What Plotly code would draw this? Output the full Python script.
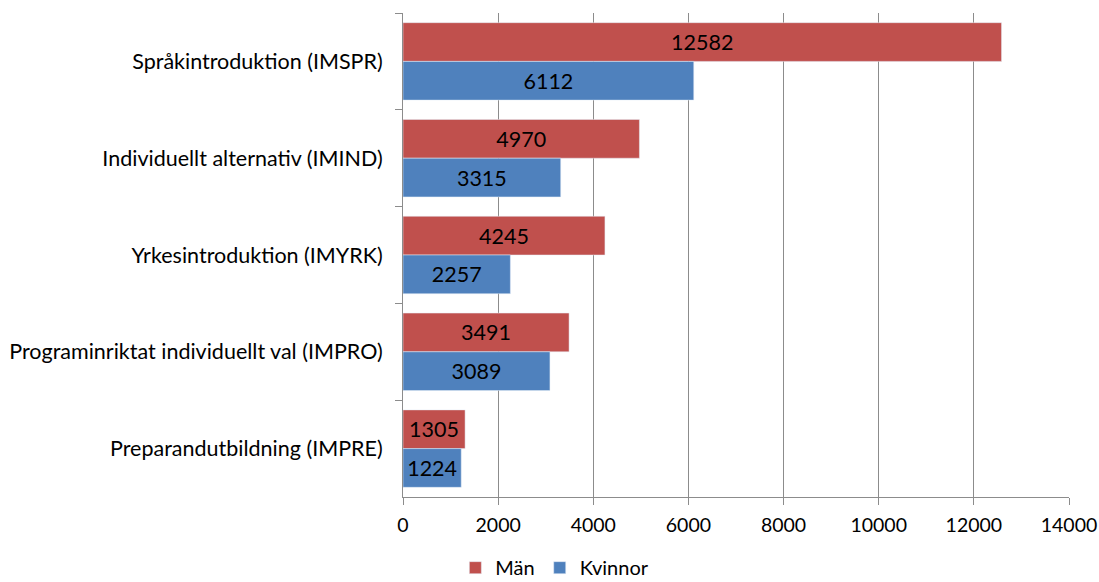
import plotly.graph_objects as go

categories = [
    "Språkintroduktion (IMSPR)",
    "Individuellt alternativ (IMIND)",
    "Yrkesintroduktion (IMYRK)",
    "Programinriktat individuellt val (IMPRO)",
    "Preparandutbildning (IMPRE)",
]
man = [12582, 4970, 4245, 3491, 1305]
kvinnor = [6112, 3315, 2257, 3089, 1224]
x_ticks = [0, 2000, 4000, 6000, 8000, 10000, 12000, 14000]

FONT = "Lato"
LBL = 21.5
fig = go.Figure()
fig.add_trace(go.Bar(
    y=categories, x=man, name="Män", orientation="h",
    marker=dict(color="#C0504D"),
    text=[str(v) for v in man], textposition="inside", insidetextanchor="middle",
    textfont=dict(color="black", size=LBL, family=FONT), textangle=0,
))
fig.add_trace(go.Bar(
    y=categories, x=kvinnor, name="Kvinnor", orientation="h",
    marker=dict(color="#4F81BD"),
    text=[str(v) for v in kvinnor], textposition="inside", insidetextanchor="middle",
    textfont=dict(color="black", size=LBL, family=FONT), textangle=0,
))

fig.update_layout(
    width=1099, height=582,
    margin=dict(l=403, r=30, t=13, b=85, autoexpand=False),
    barmode="group", bargap=0.2, bargroupgap=0,
    plot_bgcolor="white", paper_bgcolor="white",
    font=dict(family=FONT, size=20, color="black"),
    uniformtext=dict(mode="show", minsize=10),
    legend=dict(orientation="h", x=0.228, xanchor="center", y=-0.146, yanchor="middle",
                font=dict(size=20), traceorder="normal"),
    showlegend=True,
)
fig.update_xaxes(
    range=[0, 14000], tickvals=x_ticks, ticktext=[str(v) for v in x_ticks],
    showgrid=True, gridcolor="#8C8C8C", gridwidth=1,
    showline=True, linecolor="#8C8C8C", linewidth=1,
    ticks="outside", ticklen=7, tickcolor="#8C8C8C",
    zeroline=False, tickfont=dict(size=19.5), ticklabelstandoff=4,
    automargin=False,
)
fig.update_yaxes(
    autorange="reversed", showline=True, linecolor="#8C8C8C", linewidth=1,
    ticks="outside", ticklen=7, tickcolor="#8C8C8C", tickson="boundaries",
    showgrid=False, tickfont=dict(size=21.5), ticklabelstandoff=15,
    automargin=False,
)

fig.write_html(
    "out.html",
    config={"displayModeBar": False},
    post_script="document.body.style.margin='0';document.body.style.overflow='hidden';",
)
